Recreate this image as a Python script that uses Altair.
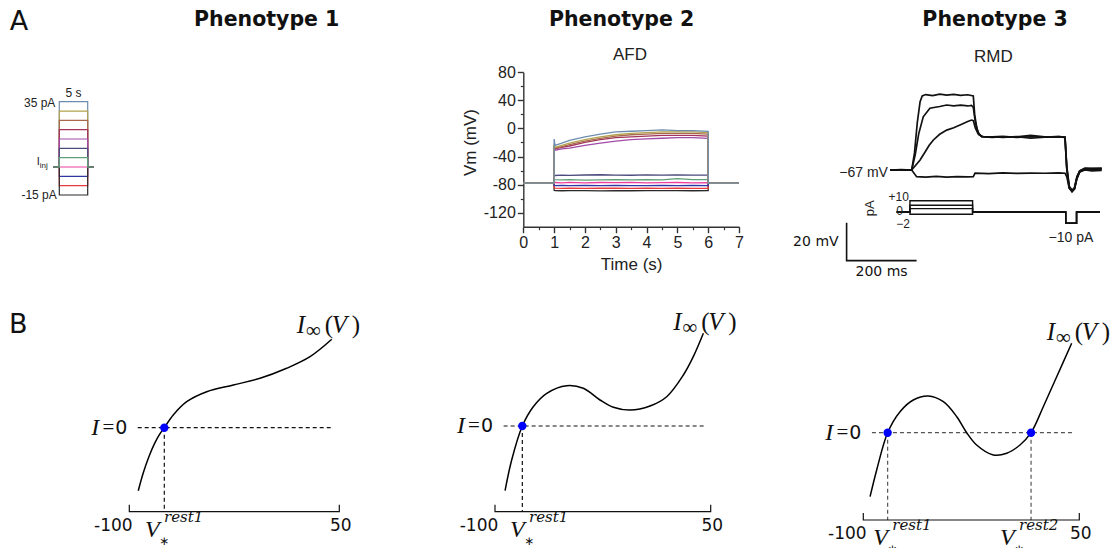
import altair as alt
import pandas as pd

W, H = 1114, 548

# ============================ DATA ============================
# --- A / Phenotype 1: injected current protocol (pA), 5 s steps
step_levels = [35, 30, 25, 20, 15, 10, 5, 0, -5, -10, -15]
step_colors = ["#6d8db0", "#b3a24e", "#a8694c", "#a3345c", "#a24aa8",
               "#4b4b7e", "#5e9e79", "#ee3f9f", "#2e36a8", "#e83a3a", "#2a2a2a"]
step_time = [-1.0, 0.0, 0.0, 5.0, 5.0, 6.0]          # s
step_hold = 0.0

# --- A / Phenotype 2: AFD membrane potential (mV), one list per step level
afd_rest = -78.0
afd_time = [1.0, 1.03, 1.25, 1.5, 2.0, 2.5, 3.0, 3.5, 4.0, 4.5, 5.0, 5.5, 6.0]
afd_vm = [
    [-15, -24, -21, -17, -12, -8, -5, -4, -3, -2, -3, -3, -4],
    [-22, -27, -24, -21, -16, -12, -9, -7, -6, -5, -5, -5, -6],
    [-24, -28, -26, -23, -18, -14, -11, -9, -8, -7, -7, -7, -8],
    [-26, -29, -27, -25, -20, -16, -13, -12, -11, -10, -10, -10, -11],
    [-28, -31, -29, -28, -24, -21, -18, -16, -15, -14, -13, -13, -14],
    [-66, -67, -66.5, -66.8, -66.3, -66, -66.5, -66.7, -66.2, -66.6, -66.3, -66.5, -66.4],
    [-72, -73, -73.3, -73, -73.5, -73.2, -73, -73.4, -73.1, -73.3, -71.5, -73, -73],
    [-76.5, -77, -77.5, -76.8, -77.6, -77, -77.3, -76.9, -77.5, -77.2, -77, -77.6, -77.2],
    [-81, -81.5, -81.2, -81.6, -81.3, -81.5, -81.1, -81.4, -81.6, -81.2, -81.5, -81.3, -81.4],
    [-84.5, -85, -85.3, -85.1, -85.4, -85.2, -85, -85.3, -85.1, -85.4, -85.2, -85.3, -85.2],
    [-88.2, -88.6, -88.8, -88.5, -88.7, -88.9, -88.6, -88.8, -88.5, -88.7, -88.6, -88.8, -88.7],
]
afd_xticks = [0, 1, 2, 3, 4, 5, 6, 7]
afd_xminor = [0.5, 1.5, 2.5, 3.5, 4.5, 5.5, 6.5]
afd_yticks = [80, 40, 0, -40, -80, -120]
afd_yminor = [60, 20, -20, -60, -100]

# --- A / Phenotype 3: RMD membrane potential (mV) vs time (ms)
rmd_rest = -67.0
rmd_tail_t = [230, 260, 300, 340, 380, 420, 438, 443, 450, 458, 465, 472, 480, 495, 515, 543]
rmd_t1 = [-62, -30, 0, 8, 16, 24, 30, 40, 60, 80, 100, 120, 140, 160, 176, 180, 186, 193, 205] + rmd_tail_t
rmd_v1 = [-67, -66.8, -67, -58, -42, -31, -28, -27.3, -27.8, -27.1, -27.6, -27.2, -27.7, -27.4, -28,
          -38, -45, -48.5, -49.5,
          -49.6, -49.3, -49.8, -49.5, -49.7, -49.4, -49.8, -66, -76, -78, -76.5, -71, -67.5, -66, -66.3, -66.0]
rmd_t2 = [-62, -30, 0, 10, 20, 33, 52, 80, 100, 120, 140, 160, 171, 176, 182, 190, 200] + rmd_tail_t
rmd_v2 = [-67, -67.1, -67, -59, -48, -39, -34.5, -33.6, -32.8, -33.2, -32.9, -33.3, -33, -34, -42, -47.5, -49.5,
          -49.8, -49.5, -49.6, -48.8, -49.6, -49.5, -49.9, -66, -76.5, -78.5, -77, -71.5, -68, -66.5, -66.8, -66.5]
rmd_t3 = [-62, -30, 0, 24, 40, 50, 62, 80, 100, 120, 138, 160, 171, 176, 182, 190, 200] + rmd_tail_t
rmd_v3 = [-67, -67, -67, -61.7, -57, -54, -51.2, -48.2, -46, -44.8, -43.3, -41.5, -40.7, -41, -45, -48, -49.5,
          -49.5, -49.8, -49.4, -50.3, -49.7, -49.4, -49.7, -65, -75.5, -77.5, -76.5, -70.5, -67.5, -66.2, -66.1, -66.3]
rmd_t4 = [-62, -30, 0, 14, 40, 70, 100, 130, 160, 176, 181, 220, 260, 300, 340, 380, 420, 438, 443, 450, 458,
          465, 472, 480, 495, 515, 543]
rmd_v4 = [-67, -67, -67, -70.5, -70.7, -70.4, -70.8, -70.5, -70.6, -70.5, -68.7, -68.9, -68.5, -68.8, -68.6,
          -68.7, -68.5, -68.7, -70.5, -76.5, -78, -77, -71.5, -68, -67, -67.5, -67.2]
# RMD current protocol (pA)
rmd_cur_t = [-43, -5, -5, 174, 174, 440, 440, 471, 471, 538]
rmd_cur_levels = [10, 6, 3, -2]
rmd_pulse = -10
scalebar_ms, scalebar_mv = 200, 20

# --- B: steady-state I-V curves (V in mV, I in arbitrary units)
iv1_v = [-93.6, -90.0, -86.0, -82.0, -78.5, -75.0, -68.6, -59.0, -44.7, -25.7, -6.6, 12.4, 29.1, 44.6]
iv1_i = [-63, -45, -29, -16, -7, 0, 12.7, 26, 36, 42.7, 49.4, 59.4, 71, 88.4]
iv2_v = [-93.0, -88.4, -81.0, -73.4, -64.0, -50.1, -38.6, -27.0, -17.7, -6.1, 7.8, 19.4, 31.0, 37.9, 44.9]
iv2_i = [-64.7, -34, 0, 19.3, 32.7, 40.3, 37.7, 26, 18.7, 16, 20, 29.3, 51, 69.3, 92.7]
iv3_v = [-95.3, -90.7, -83.1, -74.5, -65.3, -54.9, -44.4, -35.1, -28.2, -21.3, -9.7, -0.4, 8.8, 16.5,
         25.0, 34.3, 44.7]
iv3_i = [-64, -37.3, 0, 21, 32.7, 36.7, 31, 16, 0, -12.3, -22.3, -20.6, -12.3, 0, 26, 56, 89.4]
iv_rest = [[-75.0], [-81.0], [-83.1, 16.5]]
iv_rest_names = [["rest1"], ["rest1"], ["rest1", "rest2"]]
iv_vmin, iv_vmax = -100, 50

# --- figure texts
panel_letters = ["A", "B"]
phenotype_titles = ["Phenotype 1", "Phenotype 2", "Phenotype 3"]
cell_names = ["AFD", "RMD"]

# ============================ LAYOUT (positions only) ============================
def lin(d, r):
    return alt.Scale(domain=list(d), range=list(r), nice=False, zero=False)


def XY(sx, sy, xf="x", yf="y"):
    return dict(x=alt.X(f"{xf}:Q", scale=sx, axis=None),
                y=alt.Y(f"{yf}:Q", scale=sy, axis=None))


def txt(rows, sx, sy, **props):
    df = pd.DataFrame(rows, columns=["x", "y", "txt"])
    return alt.Chart(df).mark_text(**props).encode(**XY(sx, sy), text="txt:N")


layers = []
level_keys = [str(v) for v in step_levels]
color_enc = alt.Color("lvl:N", scale=alt.Scale(domain=level_keys, range=step_colors), legend=None)

# ---------- A1: protocol ----------
sx = lin([0, 5], [59.3, 87.7])
sy = lin([-15, 35], [195, 101.7])
rows = []
for k, L in enumerate(step_levels):
    vals = [step_hold, step_hold, L, L, step_hold, step_hold]
    for s, (t, i) in enumerate(zip(step_time, vals)):
        rows.append(dict(lvl=str(L), x=t, y=i, seq=s, g=k))
step_df = pd.DataFrame(rows)
top_level = str(5)
a1_under = alt.Chart(step_df[step_df.lvl != top_level]).mark_line(strokeWidth=1.2).encode(
    **XY(sx, sy), color=color_enc, detail="g:N", order="seq:Q")
a1_over = alt.Chart(step_df[step_df.lvl == top_level]).mark_line(strokeWidth=1.3).encode(
    **XY(sx, sy), color=color_enc, order="seq:Q")
sfont = dict(font="Liberation Sans", color="#222")
a1 = alt.layer(
    a1_under, a1_over,
    txt([(-0.7, 35, "35 pA")], sx, sy, align="right", baseline="middle", fontSize=12, dy=1, **sfont),
    txt([(-0.45, -15, "-15 pA")], sx, sy, align="right", baseline="middle", fontSize=12, **sfont),
    txt([(2.5, 35, "5 s")], sx, sy, align="center", baseline="middle", fontSize=12, dy=-9, **sfont),
    txt([(-3.45, 0, "I")], sx, sy, align="right", baseline="middle", fontSize=11, dy=-5, **sfont),
    txt([(-3.45, 0, "inj")], sx, sy, align="left", baseline="middle", fontSize=8, dy=-1, **sfont),
)
layers.append(a1)

# ---------- A2: AFD ----------
afd_xr = [523.3, 739]
afd_yr = [226.7, 72.3]
sxa = lin([0, 7], afd_xr)
sya = lin([-140, 80], afd_yr)
rows = []
for k in reversed(range(len(step_levels))):
    L = step_levels[k]
    ts = [0.0, 1.0] + afd_time + [6.0, 7.0]
    vs = [afd_rest, afd_rest] + afd_vm[k] + [afd_rest, afd_rest]
    for s, (t, v) in enumerate(zip(ts, vs)):
        rows.append(dict(lvl=str(L), x=t, y=v, seq=s, g=k))
afd_df = pd.DataFrame(rows)
ax_style = dict(domainColor="#333", domainWidth=1.4, tickColor="#333", tickWidth=1.4, grid=False,
                labelFont="Liberation Sans", labelFontSize=16, labelColor="#222",
                titleFont="Liberation Sans", titleFontSize=17, titleFontWeight="normal", titleColor="#222",
                labelFlush=False, labelOverlap=False)
xoff = afd_yr[0] - H
yoff = -afd_xr[0]
afd_top = str(step_levels[0])
afd_x = alt.X("x:Q", scale=sxa, axis=alt.Axis(orient="bottom", offset=xoff, values=afd_xticks, tickSize=6,
                                              labelPadding=2, title="Time (s)", titlePadding=6,
                                              labelExpr="toString(datum.value)", **ax_style))
afd_y = alt.Y("y:Q", scale=sya, axis=alt.Axis(orient="left", offset=yoff, values=afd_yticks, tickSize=6,
                                              labelPadding=2, title="Vm (mV)", titlePadding=4, titleY=142,
                                              labelExpr="toString(datum.value)", **ax_style))
a2 = alt.Chart(afd_df[afd_df.lvl != afd_top]).mark_line(strokeWidth=1.3).encode(
    x=afd_x, y=afd_y, color=color_enc, detail="g:N", order="seq:Q")
a2_top = alt.Chart(afd_df[afd_df.lvl == afd_top]).mark_line(strokeWidth=1.3).encode(
    x=afd_x, y=afd_y, color=color_enc, order="seq:Q")
layers.append(alt.layer(a2, a2_top))
minor_style = dict(labels=False, domain=False, grid=False, tickSize=3, tickColor="#333", tickWidth=1.2, title=None)
a2_xminor = alt.Chart(pd.DataFrame({"x": afd_xminor})).mark_point(opacity=0).encode(
    x=alt.X("x:Q", scale=sxa, axis=alt.Axis(orient="bottom", offset=xoff, values=afd_xminor, **minor_style)),
    y=alt.value(0))
a2_yminor = alt.Chart(pd.DataFrame({"y": afd_yminor})).mark_point(opacity=0).encode(
    y=alt.Y("y:Q", scale=sya, axis=alt.Axis(orient="left", offset=yoff, values=afd_yminor, **minor_style)),
    x=alt.value(0))
layers += [a2_xminor, a2_yminor]

# ---------- A3: RMD ----------
sxr = lin([0, 540], [911.7, 1100.7])
syr = lin([-80, -20], [194.7, 80.7])
rows = []
for g, (ts, vs) in enumerate([(rmd_t1, rmd_v1), (rmd_t2, rmd_v2), (rmd_t3, rmd_v3), (rmd_t4, rmd_v4)]):
    for s, (t, v) in enumerate(zip(ts, vs)):
        rows.append(dict(x=t, y=v, seq=s, g=g))
rmd_df = pd.DataFrame(rows)
sb_t0, sb_v0 = -186, -114.7
sb_df = pd.DataFrame(dict(x=[sb_t0, sb_t0, sb_t0 + scalebar_ms],
                          y=[sb_v0 + scalebar_mv, sb_v0, sb_v0], seq=[0, 1, 2]))
a3 = alt.layer(
    alt.Chart(rmd_df).mark_line(strokeWidth=1.7, color="#111").encode(**XY(sxr, syr), detail="g:N", order="seq:Q"),
    alt.Chart(sb_df).mark_line(strokeWidth=1.6, color="#111").encode(**XY(sxr, syr), order="seq:Q"),
    txt([(-68, rmd_rest, "\u221267 mV")], sxr, syr, align="right", baseline="middle", fontSize=14, dy=3, **sfont),
    txt([(sb_t0, sb_v0 + scalebar_mv / 2, f"{scalebar_mv} mV")], sxr, syr, align="right", baseline="middle",
        fontSize=14, dx=-8, font="DejaVu Sans", color="#111"),
    txt([(sb_t0 + scalebar_ms / 2, sb_v0, f"{scalebar_ms} ms")], sxr, syr, align="center", baseline="middle",
        fontSize=14, dy=11, font="DejaVu Sans", color="#111"),
)
layers.append(a3)

syc = lin([-10, 10], [223.3, 200.7])
rows = []
for g, L in enumerate(rmd_cur_levels):
    vals = [0, 0, L, L, 0, 0, rmd_pulse, rmd_pulse, 0, 0]
    for s, (t, c) in enumerate(zip(rmd_cur_t, vals)):
        rows.append(dict(x=t, y=c, seq=s, g=g))
cur_df = pd.DataFrame(rows)
a3c = alt.layer(
    alt.Chart(cur_df).mark_line(strokeWidth=1.4, color="#111").encode(**XY(sxr, syc), detail="g:N", order="seq:Q"),
    txt([(-5, 10, "+10")], sxr, syc, align="right", baseline="middle", fontSize=12, dx=-1, dy=-4, **sfont),
    txt([(-5, 0, "0")], sxr, syc, align="right", baseline="middle", fontSize=12, dx=-7, dy=-1, **sfont),
    txt([(-5, -2, "\u22122")], sxr, syc, align="right", baseline="middle", fontSize=12, dy=10, **sfont),
    txt([(-119, 3.3, "pA")], sxr, syc, align="center", baseline="middle", fontSize=13, angle=270, **sfont),
    txt([(455, rmd_pulse, "\u221210 pA")], sxr, syc, align="center", baseline="middle", fontSize=14, dy=15, **sfont),
)
layers.append(a3c)

# ---------- B: I-V panels ----------
b_xr = [[129.3, 339.3], [495, 710.7], [863.3, 1079.3]]
b_zero_px = [427.7, 426, 432.7]
b_axis_i = [-84, -85.7, -87.3]
b_dash_color = ["#111", "#111", "#555"]
b_inf_anchor = [(19.6, 102.7), (24, 104.3), (27.4, 101)]
b_vlabel_left = [[-88.8], [-89.6], [-93.1, -5.1]]
curves = [(iv1_v, iv1_i), (iv2_v, iv2_i), (iv3_v, iv3_i)]
serif = "Liberation Serif"
for p in range(3):
    sxb = lin([iv_vmin, iv_vmax], b_xr[p])
    syb = lin([-100, 100], [b_zero_px[p] + 100, b_zero_px[p] - 100])
    cv, ci = curves[p]
    ax = b_axis_i[p]
    cdf = pd.DataFrame(dict(x=cv, y=ci))
    dash_h = pd.DataFrame(dict(x=[-94, 46], y=[0, 0]))
    vrows = []
    for g, v in enumerate(iv_rest[p]):
        vrows += [dict(x=v, y=0, g=g), dict(x=v, y=ax, g=g)]
    dash_v = pd.DataFrame(vrows)
    axdf = pd.DataFrame(dict(x=[iv_vmin, iv_vmin, iv_vmax, iv_vmax], y=[ax + 7, ax, ax, ax + 7], seq=[0, 1, 2, 3]))
    dots = pd.DataFrame(dict(x=iv_rest[p], y=[0] * len(iv_rest[p])))
    ia, ib = b_inf_anchor[p]
    sub = [
        alt.Chart(dash_h).mark_line(strokeDash=[4, 3], strokeWidth=1.2, color=b_dash_color[p]).encode(**XY(sxb, syb)),
        alt.Chart(dash_v).mark_line(strokeDash=[4, 3], strokeWidth=1.2, color=b_dash_color[p]).encode(
            **XY(sxb, syb), detail="g:N"),
        alt.Chart(axdf).mark_line(strokeWidth=1.2, color="#111").encode(**XY(sxb, syb), order="seq:Q"),
        alt.Chart(cdf).mark_line(strokeWidth=1.5, color="#000", interpolate="catmull-rom").encode(**XY(sxb, syb)),
        alt.Chart(dots).mark_point(filled=True, size=70, color="#0000ff", opacity=1).encode(**XY(sxb, syb)),
        # tick labels
        txt([(iv_vmin, ax, "-100")], sxb, syb, align="center", baseline="middle", fontSize=17, dx=-16, dy=14,
            font="DejaVu Sans", color="#111"),
        txt([(iv_vmax, ax, "50")], sxb, syb, align="center", baseline="middle", fontSize=17, dx=1.5, dy=14,
            font="DejaVu Sans", color="#111"),
        # I = 0
        txt([(iv_vmin, 0, "0")], sxb, syb, align="right", baseline="middle", fontSize=19, dx=-2,
            font="DejaVu Sans", color="#111"),
        txt([(iv_vmin, 0, "=")], sxb, syb, align="center", baseline="middle", fontSize=21, dx=-21,
            font=serif, color="#111"),
        txt([(iv_vmin, 0, "I")], sxb, syb, align="center", baseline="middle", fontSize=24, dx=-34,
            font=serif, fontStyle="italic", color="#111"),
        # I_inf(V)
        txt([(ia, ib, "I")], sxb, syb, align="left", baseline="middle", fontSize=25, font=serif,
            fontStyle="italic", color="#111"),
        txt([(ia, ib, "\u221e")], sxb, syb, align="left", baseline="middle", fontSize=21, dx=9, dy=6,
            font=serif, color="#111"),
        txt([(ia, ib, "(")], sxb, syb, align="left", baseline="middle", fontSize=25, dx=28, font=serif, color="#111"),
        txt([(ia, ib, "V")], sxb, syb, align="left", baseline="middle", fontSize=25, dx=35, font=serif,
            fontStyle="italic", color="#111"),
        txt([(ia, ib, ")")], sxb, syb, align="left", baseline="middle", fontSize=25, dx=55, font=serif, color="#111"),
    ]
    for vl, nm in zip(b_vlabel_left[p], iv_rest_names[p]):
        sub += [
            txt([(vl, ax, "V")], sxb, syb, align="left", baseline="alphabetic", fontSize=24, dy=25, font=serif,
                fontStyle="italic", color="#111"),
            txt([(vl, ax, nm)], sxb, syb, align="left", baseline="alphabetic", fontSize=15, dx=19, dy=10,
                font="DejaVu Serif", fontStyle="italic", color="#111"),
            txt([(vl, ax, "\u2217")], sxb, syb, align="center", baseline="middle", fontSize=12, dx=19, dy=29,
                font="DejaVu Sans", color="#111"),
        ]
    layers.append(alt.layer(*sub))

# ---------- figure-level texts (fractions of the figure) ----------
fx = lin([0, 1], [0, W])
fy = lin([0, 1], [0, H])
fig = alt.layer(
    txt([(0.017, 0.040, panel_letters[0]), (0.0165, 0.593, panel_letters[1])], fx, fy, align="center",
        baseline="middle", fontSize=27, font="DejaVu Sans", color="#111"),
    txt([(0.2394, 0.0365, phenotype_titles[0]), (0.558, 0.0365, phenotype_titles[1]),
         (0.8932, 0.0365, phenotype_titles[2])], fx, fy, align="center", baseline="middle", fontSize=20.5,
        font="DejaVu Sans", fontWeight="bold", color="#111"),
    txt([(0.5655, 0.1004, cell_names[0]), (0.8917, 0.1035, cell_names[1])], fx, fy, align="center",
        baseline="middle", fontSize=17, font="Liberation Sans", color="#222"),
)
layers.append(fig)

chart = alt.layer(*layers).resolve_scale(x="independent", y="independent").properties(
    width=W, height=H, autosize=alt.AutoSizeParams(type="none"), padding=0, background="white"
).configure_view(strokeWidth=0)

chart.save("out.html", embed_options={"renderer": "svg", "actions": False})
